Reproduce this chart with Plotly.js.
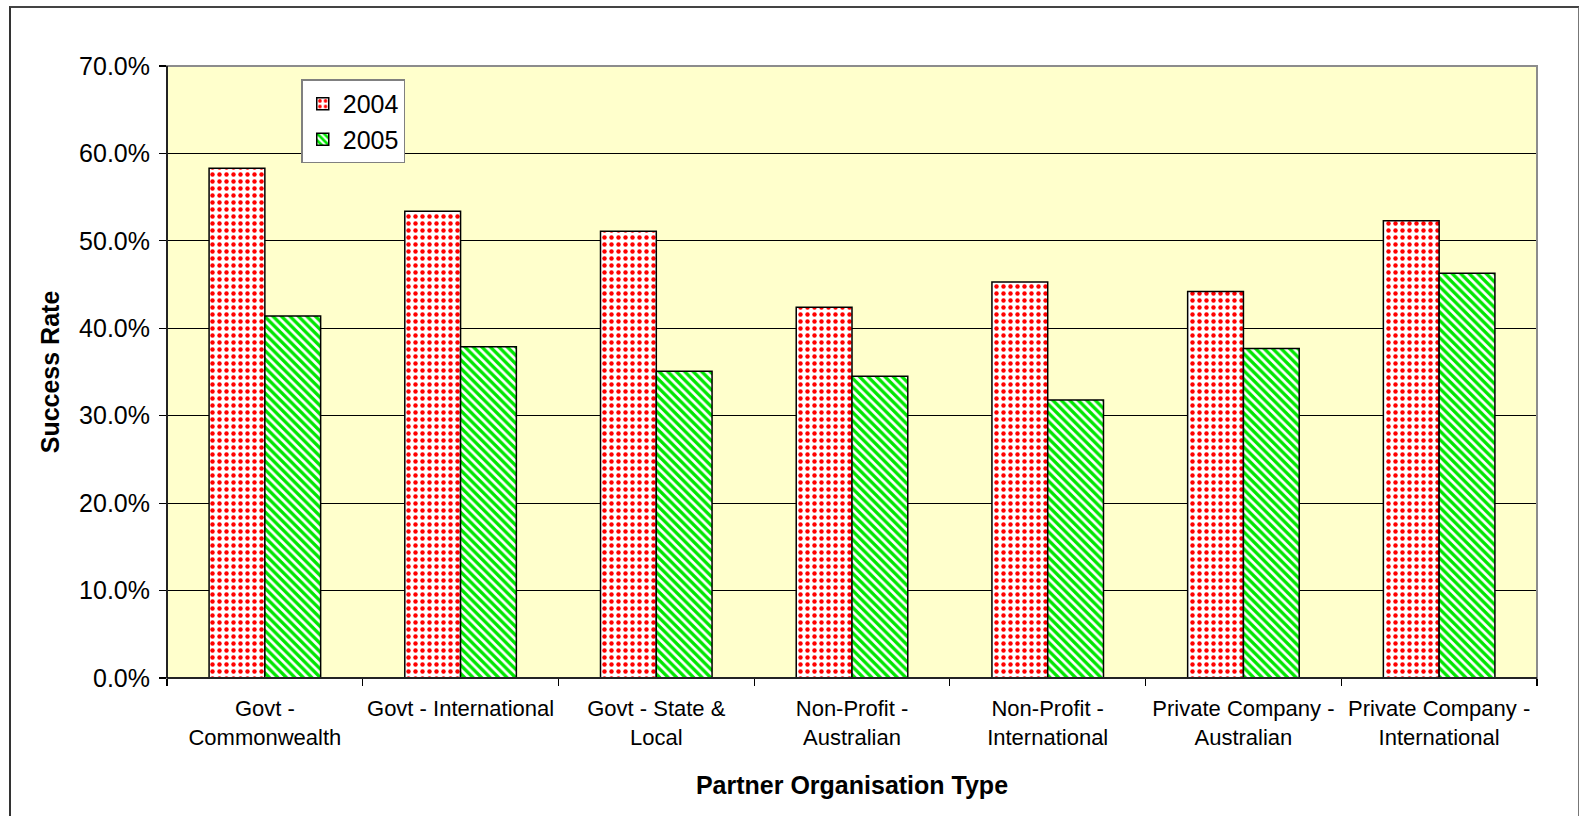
<!DOCTYPE html>
<html>
<head>
<meta charset="utf-8">
<script src="https://cdn.plot.ly/plotly-3.0.1.min.js"></script>
<style>
  html, body { margin: 0; padding: 0; background: #fff; }
  #frame { position: absolute; left: 9px; top: 6px; width: 1567px; height: 830px;
           border-left: 2px solid #333; border-top: 2px solid #444; border-right: 2px solid #777; }
  #chart { position: absolute; left: 0; top: 0; width: 1579px; height: 816px; }
</style>
</head>
<body>
<div id="frame"></div>
<div id="chart"></div>
<script>
const categories = [
  "Govt -<br>Commonwealth",
  "Govt - International",
  "Govt - State &<br>Local",
  "Non-Profit -<br>Australian",
  "Non-Profit -<br>International",
  "Private Company -<br>Australian",
  "Private Company -<br>International"
];
const seriesNames = ["2004", "2005"];
const values2004 = [0.583, 0.534, 0.511, 0.424, 0.453, 0.442, 0.523];
const values2005 = [0.414, 0.379, 0.351, 0.345, 0.318, 0.377, 0.463];

const fontFam = '"Liberation Sans", Arial, Helvetica, sans-serif';

const traces = [
  {
    type: 'bar', name: seriesNames[0], x: categories, y: values2004,
    marker: {
      color: '#ffffff',
      line: { color: '#000000', width: 1.5 },
      pattern: { shape: '.', fgcolor: '#ff0000', bgcolor: '#ffffff', size: 7, solidity: 0.32, fillmode: 'replace' }
    },
    hoverinfo: 'skip'
  },
  {
    type: 'bar', name: seriesNames[1], x: categories, y: values2005,
    marker: {
      color: '#ffffff',
      line: { color: '#000000', width: 1.5 },
      pattern: { shape: '\\', fgcolor: '#00e600', bgcolor: '#ffffff', size: 6, solidity: 0.55, fillmode: 'replace' }
    },
    hoverinfo: 'skip'
  }
];

const layout = {
  width: 1579, height: 816,
  margin: { l: 167, r: 42, t: 66, b: 138, pad: 0 },
  paper_bgcolor: 'rgba(0,0,0,0)',
  plot_bgcolor: '#ffffcc',
  font: { family: fontFam, color: '#000000', size: 22 },
  barmode: 'group', bargap: 0.43, bargroupgap: 0,
  showlegend: true,
  legend: {
    x: 0.098, y: 0.978, xanchor: 'left', yanchor: 'top',
    bgcolor: '#ffffff', bordercolor: '#808080', borderwidth: 1.5,
    font: { family: fontFam, size: 25, color: '#000' },
    traceorder: 'normal', tracegroupgap: 0
  },
  xaxis: {
    type: 'category',
    tickson: 'boundaries',
    tickangle: 0,
    ticks: 'outside', ticklen: 7, tickcolor: '#000', tickwidth: 1.2,
    ticklabelstandoff: 15,
    showline: false, showgrid: false, zeroline: false,
    tickfont: { family: fontFam, size: 22, color: '#000' },
    title: { text: '<b>Partner Organisation Type</b>', font: { family: fontFam, size: 25, color: '#000' }, standoff: 27 },
    fixedrange: true
  },
  yaxis: {
    range: [0, 0.7], dtick: 0.1, tick0: 0, tickformat: '.1%',
    ticks: 'outside', ticklen: 7, tickcolor: '#000', tickwidth: 1.2,
    ticklabelstandoff: 4,
    showgrid: true, gridcolor: '#000000', gridwidth: 1.2,
    zeroline: false, showline: false,
    tickfont: { family: fontFam, size: 25, color: '#000' },
    title: { text: '<b>Success Rate</b>', font: { family: fontFam, size: 25, color: '#000' }, standoff: 12 },
    fixedrange: true
  },
  shapes: [
    { type: 'rect', xref: 'paper', yref: 'paper', x0: 0, x1: 1, y0: 0, y1: 1,
      line: { color: '#8c8c8c', width: 2 }, layer: 'above' },
    { type: 'line', xref: 'paper', yref: 'paper', x0: 0, x1: 0, y0: 0, y1: 1,
      line: { color: '#000000', width: 1.5 }, layer: 'above' },
    { type: 'line', xref: 'paper', yref: 'paper', x0: 0, x1: 1, y0: 0, y1: 0,
      line: { color: '#000000', width: 1.5 }, layer: 'above' }
  ]
};

Plotly.newPlot('chart', traces, layout, { staticPlot: true, displayModeBar: false });
</script>
</body>
</html>
